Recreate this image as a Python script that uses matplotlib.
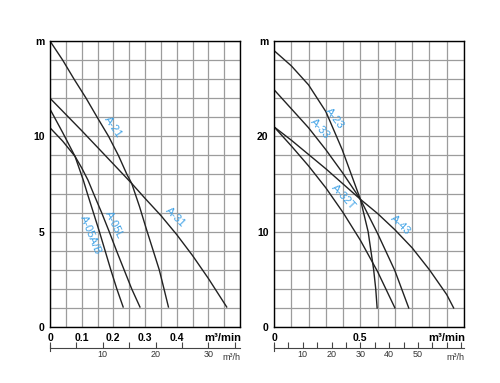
import numpy as np
import matplotlib
matplotlib.use("Agg")
import matplotlib.pyplot as plt

plt.rcParams["font.family"] = ["Liberation Sans", "DejaVu Sans"]

# left chart: head (m) vs flow (m3/min)
a21_x = [0, 0.04, 0.076, 0.114, 0.149, 0.185, 0.216, 0.243, 0.258, 0.283, 0.305, 0.326, 0.345, 0.36, 0.374]
a21_y = [15, 14.0, 13.0, 12.0, 11.0, 10.0, 9.0, 8.0, 7.53, 6.3, 5.1, 4.0, 3.0, 2.0, 1.05]
a31_x = [0, 0.1, 0.2, 0.258, 0.3, 0.35, 0.4, 0.45, 0.5, 0.558]
a31_y = [12, 10.3, 8.55, 7.53, 6.75, 5.85, 4.85, 3.75, 2.55, 1.05]
a05l_x = [0, 0.04, 0.079, 0.1, 0.12, 0.14, 0.163, 0.187, 0.21, 0.234, 0.258, 0.284]
a05l_y = [10.45, 9.75, 8.95, 8.35, 7.7, 6.9, 6.0, 5.0, 4.0, 3.0, 2.0, 1.05]
a05ab_x = [0, 0.04, 0.079, 0.105, 0.118, 0.137, 0.156, 0.174, 0.192, 0.211, 0.231]
a05ab_y = [11.43, 10.2, 8.95, 7.71, 7.0, 6.0, 5.0, 4.0, 3.0, 2.0, 1.05]

# right chart
a23_x = [0, 0.1, 0.2, 0.3, 0.395, 0.5, 0.545, 0.577, 0.589, 0.597]
a23_y = [29, 27.4, 25.4, 22.6, 18.6, 13.4, 10.0, 6.0, 4.0, 2.0]
a33_x = [0, 0.1, 0.2, 0.3, 0.4, 0.5, 0.6, 0.7, 0.78]
a33_y = [24.9, 22.9, 20.9, 18.6, 16.1, 13.4, 9.8, 5.9, 2.0]
a32t_x = [0, 0.1, 0.2, 0.3, 0.4, 0.5, 0.6, 0.7]
a32t_y = [21, 19.0, 16.9, 14.6, 12.0, 9.1, 5.8, 2.0]
a43_x = [0, 0.1, 0.2, 0.3, 0.4, 0.5, 0.6, 0.7, 0.8, 0.9, 1.0, 1.04]
a43_y = [21, 19.6, 18.1, 16.6, 15.0, 13.4, 11.9, 10.2, 8.3, 6.0, 3.4, 2.0]

left_xlabels = ["0", "", "0.1", "", "0.2", "", "0.3", "", "0.4", "", "", "", ""]
right_xlabels = ["0", "", "", "", "", "0.5", "", "", "", "", "", ""]
left_ylabels = ["0", "", "", "", "", "5", "", "", "", "", "10", "", "", "", "", "m"]
right_ylabels = ["0", "", "", "", "", "10", "", "", "", "", "20", "", "", "", "", "m"]
left_h_labels = ["10", "20", "30"]
right_h_labels = ["10", "20", "30", "40", "50"]

line_col = "#222222"
lab_col = "#3fa2e6"
grid_col = "#9c9c9c"

fig = plt.figure(figsize=(5, 3.83), dpi=100)


def setup(ax, xmax, xstep, ymax, ystep, xlabels, ylabels):
    ax.set_xlim(0, xmax)
    ax.set_ylim(0, ymax)
    ax.set_xticks(np.arange(0, xmax + 1e-6, xstep), xlabels)
    ax.set_yticks(np.arange(0, ymax + 1e-6, ystep), ylabels)
    ax.grid(True, color=grid_col, lw=0.9)
    ax.set_axisbelow(True)
    ax.tick_params(length=0, labelsize=7.5, pad=4)
    for t in ax.get_xticklabels() + ax.get_yticklabels():
        t.set_fontweight("bold")
    for s in ax.spines.values():
        s.set_color("black")
        s.set_linewidth(1.0)
    ax.text(1.005, -0.022, "m³/min", transform=ax.transAxes, ha="right", va="top",
            fontsize=8, fontweight="bold")


def flow_axis(rect, xmax, labels):
    a = fig.add_axes(rect)
    a.set_xlim(0, xmax)
    a.set_ylim(-1, 1)
    a.patch.set_visible(False)
    for k in ["left", "right", "top"]:
        a.spines[k].set_visible(False)
    a.spines["bottom"].set_position(("data", 0))
    a.spines["bottom"].set_color("#444444")
    a.spines["bottom"].set_linewidth(0.8)
    a.set_yticks([])
    ticks = np.arange(0, xmax, 5)
    a.set_xticks(ticks, [str(int(t)) if str(int(t)) in labels else "" for t in ticks])
    a.tick_params(axis="x", direction="in", length=4, width=0.8, color="#444444",
                  labelsize=6.5, pad=1.5, labelcolor="#333333")
    a.plot([0, 0], [-0.7, 0.7], color="#444444", lw=0.8, clip_on=False)
    a.text(xmax, -1.2, "m³/h", ha="right", va="top", fontsize=6.5, color="#333333")
    return a


def tag(ax, x, y, s, rot):
    ax.text(x, y, s, rotation=rot, color=lab_col, fontsize=8, ha="center", va="center",
            rotation_mode="anchor")


ax1 = fig.add_axes([0.1, 0.1462, 0.38, 0.7467])
setup(ax1, 0.6, 0.05, 15, 1, left_xlabels, left_ylabels)
for xs, ys in [(a21_x, a21_y), (a31_x, a31_y), (a05l_x, a05l_y), (a05ab_x, a05ab_y)]:
    ax1.plot(xs, ys, color=line_col, lw=1.0)
tag(ax1, 0.199, 10.5, "A-21", -56)
tag(ax1, 0.397, 5.75, "A-31", -45)
tag(ax1, 0.203, 5.35, "A-05L", -64)
tag(ax1, 0.128, 4.85, "A-05A/B", -68)
flow_axis([0.1, (383 - 352) / 383, 0.38, 8 / 383], 36, left_h_labels)

ax2 = fig.add_axes([0.548, 0.1462, 0.38, 0.7467])
setup(ax2, 1.1, 0.1, 30, 2, right_xlabels, right_ylabels)
for xs, ys in [(a23_x, a23_y), (a33_x, a33_y), (a32t_x, a32t_y), (a43_x, a43_y)]:
    ax2.plot(xs, ys, color=line_col, lw=1.0)
tag(ax2, 0.352, 21.9, "A-23", -52)
tag(ax2, 0.268, 20.8, "A-33", -48)
tag(ax2, 0.40, 13.6, "A-32T", -47)
tag(ax2, 0.73, 10.7, "A-43", -44)
flow_axis([0.548, (383 - 352) / 383, 0.38, 8 / 383], 66, right_h_labels)

fig.savefig("out.png", dpi=100)
